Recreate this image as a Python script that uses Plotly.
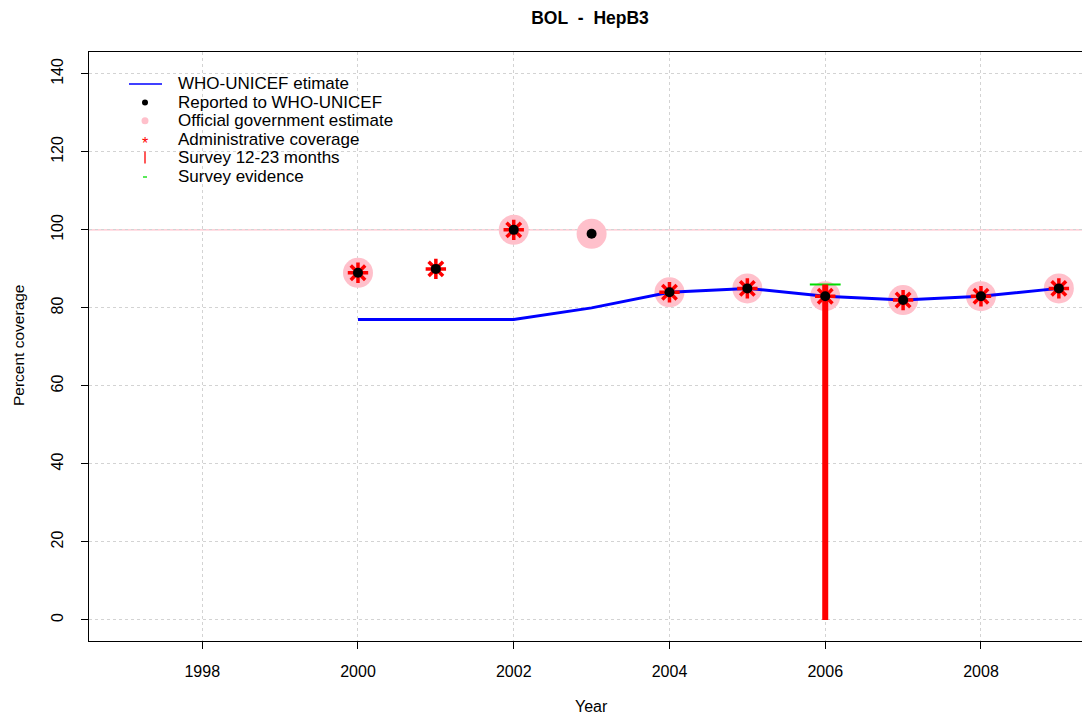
import plotly.graph_objects as go

# ---- data ----
years = [2000, 2001, 2002, 2003, 2004, 2005, 2006, 2007, 2008, 2009]
wuenic = [77, 77, 77, 80, 84, 85, 83, 82, 83, 85]
reported = [89, 90, 100, 99, 84, 85, 83, 82, 83, 85]
official_years = [2000, 2002, 2003, 2004, 2005, 2006, 2007, 2008, 2009]
official = [89, 100, 99, 84, 85, 83, 82, 83, 85]
admin_years = [2000, 2001, 2002, 2004, 2005, 2006, 2007, 2008, 2009]
admin = [89, 90, 100, 84, 85, 83, 82, 83, 85]
survey_years = [2006]
survey_values = [86]
evidence_years = [2006]
evidence_values = [86]

x_ticks = [1998, 2000, 2002, 2004, 2006, 2008]
y_ticks = [0, 20, 40, 60, 80, 100, 120, 140]

legend_labels = ["WHO-UNICEF etimate", "Reported to WHO-UNICEF",
                 "Official government estimate", "Administrative coverage",
                 "Survey 12-23 months", "Survey evidence"]

FONT = "Liberation Sans"
PINK = "#FFC0CB"
GREEN = "#00DD00"

# page has an 8px body margin; figure is placed at (8, 8)
OFF = 8
W, H = 1090 - OFF, 717 - OFF
# plot area in page pixels: x 89..1090, y 52..641
PL, PR, PT, PB = 89, 1090, 52, 641
ML, MR, MT, MB = PL - OFF, 0, PT - OFF, (H + OFF) - PB
PW, PH = PR - PL, PB - PT


def px_x(px):
    return (px - PL) / PW


def px_y(py):
    return 1 - (py - PT) / PH


fig = go.Figure()

# official government estimate (big pink circles)
fig.add_trace(go.Scatter(x=official_years, y=official, mode="markers",
                         marker=dict(symbol="circle", size=30, color=PINK),
                         showlegend=False, hoverinfo="skip"))
# survey evidence (green dash)
fig.add_trace(go.Scatter(x=evidence_years, y=evidence_values, mode="markers",
                         marker=dict(symbol="line-ew-open", size=22, color=GREEN,
                                     line=dict(color=GREEN, width=2)),
                         showlegend=False, hoverinfo="skip"))
# survey 12-23 months (vertical red bars from 0)
for sx, sv in zip(survey_years, survey_values):
    fig.add_trace(go.Scatter(x=[sx, sx], y=[0, sv], mode="lines",
                             line=dict(color="red", width=6),
                             showlegend=False, hoverinfo="skip"))
# WHO-UNICEF estimate
fig.add_trace(go.Scatter(x=years, y=wuenic, mode="lines",
                         line=dict(color="blue", width=3),
                         showlegend=False, hoverinfo="skip"))
# administrative coverage (red asterisks)
fig.add_trace(go.Scatter(x=admin_years, y=admin, mode="markers",
                         marker=dict(symbol="asterisk-open", size=17, color="red",
                                     line=dict(color="red", width=3.5)),
                         showlegend=False, hoverinfo="skip"))
# reported (black dots)
fig.add_trace(go.Scatter(x=years, y=reported, mode="markers",
                         marker=dict(symbol="circle", size=10, color="black"),
                         showlegend=False, hoverinfo="skip"))

# reference line at 100%
fig.add_shape(type="line", xref="paper", x0=0, x1=1, yref="y", y0=100, y1=100,
              line=dict(color=PINK, width=1.2), layer="below")

# ---- manual legend (R-style, compact spacing) ----
row0, row_gap = 84, 18.4
key_x = 145
text_x = 176
rows = [row0 + i * row_gap for i in range(len(legend_labels))]
for lab, ry in zip(legend_labels, rows):
    fig.add_annotation(text=lab, xref="paper", yref="paper", x=px_x(text_x), y=px_y(ry),
                       xanchor="left", yanchor="middle", showarrow=False,
                       font=dict(family=FONT, size=17, color="black"))
# key 1: blue line
fig.add_shape(type="line", xref="paper", yref="paper",
              x0=px_x(129), x1=px_x(162), y0=px_y(rows[0]), y1=px_y(rows[0]),
              line=dict(color="blue", width=1.3))
# key 2: black dot
fig.add_shape(type="circle", xref="paper", yref="paper", xsizemode="pixel", ysizemode="pixel",
              xanchor=px_x(key_x), yanchor=px_y(rows[1]), x0=-3, x1=3, y0=-3, y1=3,
              fillcolor="black", line=dict(width=0))
# key 3: pink dot
fig.add_shape(type="circle", xref="paper", yref="paper", xsizemode="pixel", ysizemode="pixel",
              xanchor=px_x(key_x), yanchor=px_y(rows[2]), x0=-3.5, x1=3.5, y0=-3.5, y1=3.5,
              fillcolor=PINK, line=dict(width=0))
# key 4: red asterisk
fig.add_annotation(text="*", xref="paper", yref="paper", x=px_x(key_x), y=px_y(rows[3]),
                   xanchor="center", yanchor="middle", yshift=-4, showarrow=False,
                   font=dict(family=FONT, size=16, color="red"))
# key 5: red vertical bar
fig.add_shape(type="line", xref="paper", yref="paper",
              x0=px_x(key_x), x1=px_x(key_x), y0=px_y(rows[4] - 6), y1=px_y(rows[4] + 6),
              line=dict(color="red", width=1.3))
# key 6: green dash
fig.add_shape(type="line", xref="paper", yref="paper",
              x0=px_x(key_x - 2), x1=px_x(key_x + 2), y0=px_y(rows[5] + 1), y1=px_y(rows[5] + 1),
              line=dict(color=GREEN, width=1.3))

# axis titles
fig.add_annotation(text="Year", xref="paper", yref="paper", x=px_x(591), y=px_y(706),
                   xanchor="center", yanchor="middle", showarrow=False,
                   font=dict(family=FONT, size=16, color="black"))
fig.add_annotation(text="Percent coverage", xref="paper", yref="paper", x=px_x(19), y=px_y(345),
                   xanchor="center", yanchor="middle", showarrow=False, textangle=-90,
                   font=dict(family=FONT, size=15.5, color="black"))

fig.update_layout(
    width=W, height=H,
    margin=dict(l=ML, r=MR, t=MT, b=MB, autoexpand=False),
    paper_bgcolor="white", plot_bgcolor="white",
    font=dict(family=FONT, size=16, color="black"),
    title=dict(text="BOL\u00a0\u00a0-\u00a0\u00a0HepB3", x=(590 - OFF) / W, xanchor="center",
               xref="container", y=1 - 4 / H, yanchor="top", yref="container",
               pad=dict(t=0, b=0),
               font=dict(family=FONT, size=17.5, color="black", weight="bold")),
    showlegend=False,
)
fig.update_xaxes(range=[1996.546, 2009.40], tickvals=x_ticks,
                 ticktext=[str(t) for t in x_ticks], automargin=False,
                 showline=True, linecolor="black", linewidth=1, mirror=True,
                 ticks="outside", ticklen=7, tickcolor="black", ticklabelstandoff=9,
                 showgrid=True, gridcolor="#D3D3D3", griddash="dot", gridwidth=1,
                 zeroline=False, tickfont=dict(family=FONT, size=16))
fig.update_yaxes(range=[-5.4, 145.6], tickvals=y_ticks,
                 ticktext=[str(t) for t in y_ticks], automargin=False,
                 showline=True, linecolor="black", linewidth=1,
                 ticks="outside", ticklen=7, tickcolor="black", tickangle=-90,
                 ticklabelstandoff=12,
                 showgrid=True, gridcolor="#D3D3D3", griddash="dot", gridwidth=1,
                 zeroline=False, tickfont=dict(family=FONT, size=16))

fig.write_html("out.html")
